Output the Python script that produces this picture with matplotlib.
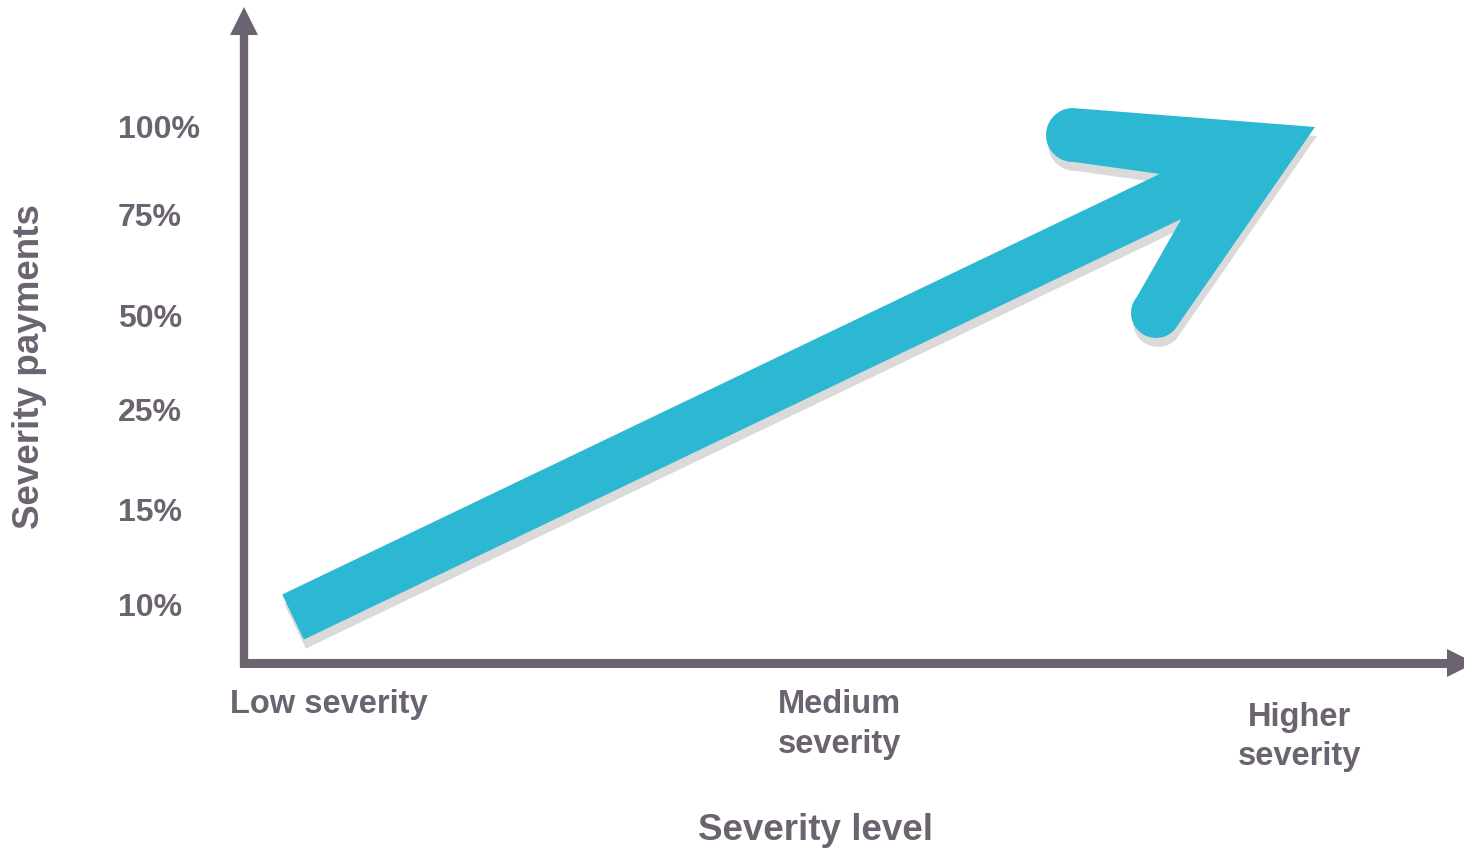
import numpy as np
import matplotlib.pyplot as plt

plt.rcParams['font.family'] = ['Liberation Sans', 'DejaVu Sans']

# --- data ---
y_labels = ["10%", "15%", "25%", "50%", "75%", "100%"]
y_pos = [1, 2, 3.04, 4.03, 5.08, 6]
x_labels = ["Low severity", "Medium\nseverity", "Higher\nseverity"]
x_pos = [0.0, 1.02, 1.94]
label_drop = [19, 19, 28]          # points below the axis
trend_x = [-0.072, 1.972]          # tail / tip of the big arrow
trend_y = [0.874, 6.0]

GREY = "#6b6470"
CYAN = "#2cb7d3"
SHADOW = "#dadada"

W, H = 1464, 852
fig = plt.figure(figsize=(W / 100, H / 100), dpi=100)
ax = fig.add_axes([243.5 / W, (H - 663) / H, (1475 - 243.5) / W, (663 - 7) / H])
ax.set_xlim(-0.171, 2.292)
ax.set_ylim(0.3933, 7.255)
for s in ax.spines.values():
    s.set_visible(False)
ax.set_xticks([])

# --- axes with arrow heads ---
head = 28 * 0.72  # px -> pt
ax.plot([0, 0], [0, 1 - 14 / 656], transform=ax.transAxes, color=GREY, lw=6,
        solid_capstyle='projecting', clip_on=False)
ax.plot([0], [1 - 14 / 656], transform=ax.transAxes, marker='^', ms=head,
        color=GREY, mew=0, clip_on=False)
ax.plot([0, 1 - 14 / 1231.5], [0, 0], transform=ax.transAxes, color=GREY, lw=6.5,
        solid_capstyle='projecting', clip_on=False)
ax.plot([1 - 14 / 1231.5], [0], transform=ax.transAxes, marker='>', ms=head,
        color=GREY, mew=0, clip_on=False)

# --- big trend arrow, built in display space from the data anchors ---
tail = ax.transData.transform((trend_x[0], trend_y[0]))
tip = ax.transData.transform((trend_x[1], trend_y[1]))


def unit(v):
    return v / np.hypot(*v)


def cap(c, r):
    u = unit(c - tip)
    p = np.array([-u[1], u[0]])
    t = np.radians(np.linspace(-90, 90, 25))
    return c + r * (np.cos(t)[:, None] * u + np.sin(t)[:, None] * p)


end = tip + np.array([-144.5, -69.5])
s = unit(end - tail)
n = np.array([-s[1], s[0]])
half = 25
c1 = tip + np.array([-242, -8])
c2 = tip + np.array([-159, -186])
pts = np.vstack([tip, cap(c1, 27), end + n * half, tail + n * half,
                 tail - n * half, end - n * half, cap(c2, 25), tip])

inv = ax.transData.inverted()
shadow = inv.transform(pts + np.array([2, -9]))
body = inv.transform(pts)
ax.fill(shadow[:, 0], shadow[:, 1], color=SHADOW, lw=0, zorder=1)
ax.fill(body[:, 0], body[:, 1], color=CYAN, lw=0, zorder=2)

# --- labels ---
fs = 23.5
ax.set_yticks(y_pos, y_labels)
ax.tick_params(axis='y', length=0, pad=90.4, labelsize=23, labelcolor=GREY)
for lab in ax.get_yticklabels():
    lab.set_horizontalalignment('left')
    lab.set_fontweight('bold')

for lab, xp, dy in zip(x_labels, x_pos, label_drop):
    ax.annotate(lab, xy=(xp, ax.get_ylim()[0]), xytext=(0, -dy),
                textcoords='offset points', ha='center', va='top',
                fontsize=fs, fontweight='bold', color=GREY,
                linespacing=1.35, annotation_clip=False)

fig.text(815 / W, 1 - 830 / H, "Severity level", ha='center', va='center',
         fontsize=26.5, fontweight='bold', color=GREY)
fig.text(30 / W, 1 - 367 / H, "Severity payments", ha='center', va='center',
         rotation=90, fontsize=26.5, fontweight='bold', color=GREY)

fig.savefig("out.png", dpi=100)
